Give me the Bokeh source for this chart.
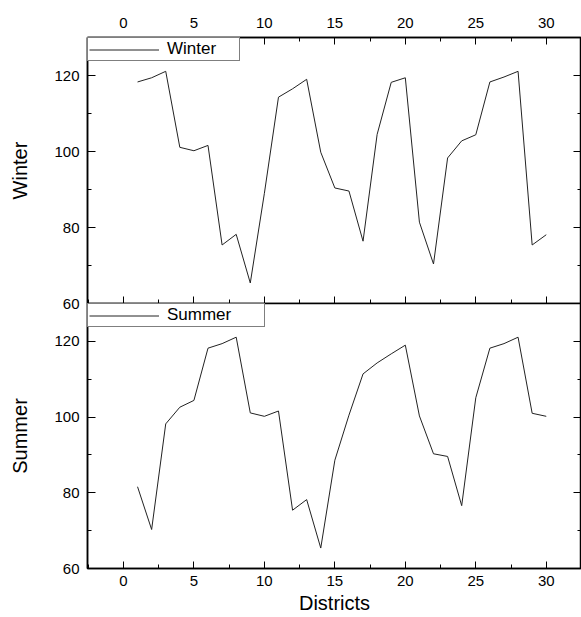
from bokeh.plotting import figure
from bokeh.models import LinearAxis, SingleIntervalTicker, Range1d
from bokeh.layouts import column
from bokeh.embed import file_html
from bokeh.resources import INLINE

districts = list(range(1, 31))
winter = [118.3, 119.4, 121.1, 101.1, 100.2, 101.6, 75.4, 78.2, 65.4, 89.0,
          114.3, 116.5, 119.0, 99.8, 90.4, 89.6, 76.4, 104.5, 118.2, 119.4,
          81.4, 70.4, 98.3, 102.8, 104.4, 118.3, 119.6, 121.1, 75.4, 78.1]
summer = [81.6, 70.3, 98.2, 102.6, 104.4, 118.2, 119.4, 121.1, 101.1, 100.2,
          101.6, 75.4, 78.2, 65.4, 88.6, 100.5, 111.4, 114.3, 116.7, 119.0,
          100.3, 90.3, 89.6, 76.6, 105.1, 118.2, 119.4, 121.1, 101.0, 100.2]

FONT = "Liberation Sans"
X_RANGE = (-2.55, 32.5)
Y_RANGE = (60, 130)
OVERLAP = 9


def style_axis(ax, is_x, labels=True):
    ax.ticker = SingleIntervalTicker(interval=5 if is_x else 20, num_minor_ticks=2)
    ax.axis_line_color = "black"
    ax.axis_line_width = 1.5
    ax.major_tick_line_color = "black"
    ax.minor_tick_line_color = "black"
    ax.major_tick_out = 0
    ax.minor_tick_out = 0
    ax.major_tick_in = 7 if is_x else 8
    ax.minor_tick_in = 4
    ax.major_label_text_font = FONT
    ax.major_label_text_color = "black"
    ax.axis_label_text_font = FONT
    ax.axis_label_text_font_style = "normal"
    ax.axis_label_text_color = "black"
    ax.axis_label_text_font_size = "20px"
    if labels:
        ax.major_label_text_font_size = "15px"
        ax.major_label_standoff = 8
    else:
        ax.major_label_text_font_size = "0px"
        ax.major_label_text_color = None
        ax.major_label_standoff = 0


def make_panel(values, name, height, top, bottom, top_axis_labels, bottom_axis):
    p = figure(width=581, height=height, x_range=Range1d(*X_RANGE),
               y_range=Range1d(*Y_RANGE), output_backend="svg",
               toolbar_location=None, x_axis_location=None,
               min_border_left=87, min_border_right=0,
               min_border_top=top, min_border_bottom=bottom)
    p.grid.visible = False
    p.outline_line_color = "black"
    p.outline_line_width = 1.5
    p.background_fill_color = "white"

    yl = p.yaxis[0]
    style_axis(yl, False)
    yl.axis_label = name
    yl.axis_label_standoff = 20

    yr = LinearAxis()
    style_axis(yr, False, labels=False)
    p.add_layout(yr, "right")

    if top_axis_labels:
        xt = LinearAxis()
        style_axis(xt, True)
        xt.major_label_standoff = 10
        p.add_layout(xt, "above")
    if bottom_axis == "ticks":
        xb = LinearAxis()
        style_axis(xb, True, labels=False)
        p.add_layout(xb, "below")
    elif bottom_axis == "labels":
        xb = LinearAxis(axis_label="Districts")
        style_axis(xb, True)
        xb.major_label_standoff = 7
        xb.axis_label_standoff = 3
        p.add_layout(xb, "below")

    p.line(districts, values, line_color="#222222", line_width=1,
           legend_label=name)
    lg = p.legend[0]
    lg.location = "top_left"
    lg.margin = 0
    lg.padding = 1
    lg.glyph_width = 70
    lg.glyph_height = 17
    lg.label_height = 17
    lg.label_standoff = 8
    lg.label_width = 71 if name == "Winter" else 96
    lg.label_text_font = FONT
    lg.label_text_font_size = "17px"
    lg.label_text_color = "black"
    lg.border_line_color = "black"
    lg.border_line_width = 1
    lg.background_fill_alpha = 1
    return p


p1 = make_panel(winter, "Winter", 303 + OVERLAP, 37, OVERLAP, True, "ticks")
p1.border_fill_color = "white"
p2 = make_panel(summer, "Summer", 314, 0, 49, False, "labels")
p2.border_fill_alpha = 0
p2.styles = {"margin-top": f"-{OVERLAP}px"}

layout = column(p1, p2, spacing=0)
open("out.html", "w").write(file_html(layout, INLINE))
